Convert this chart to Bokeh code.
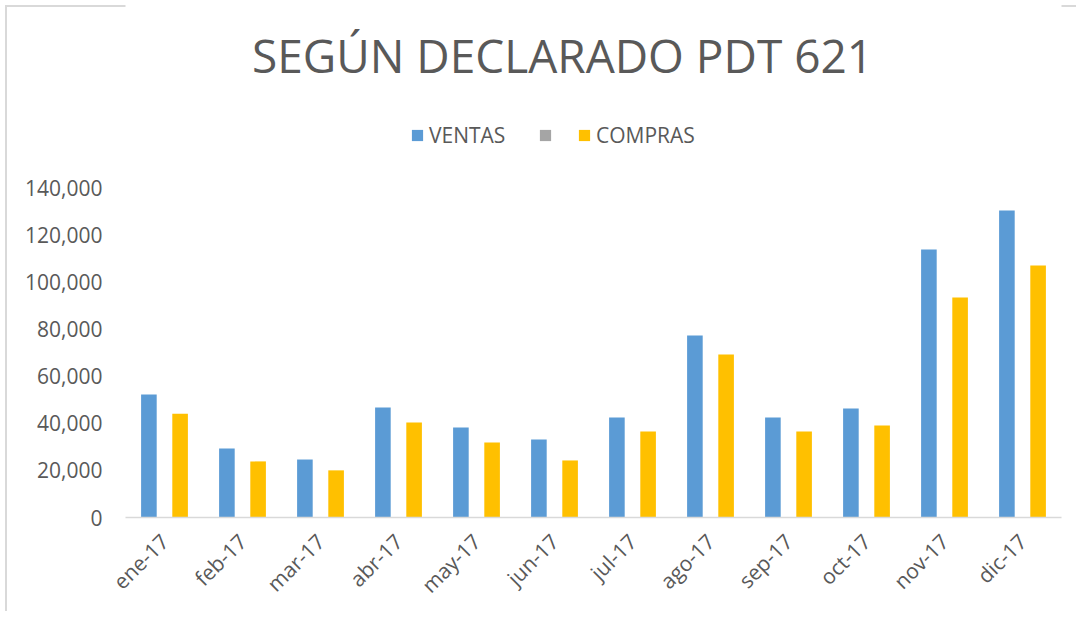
import math
from bokeh.plotting import figure
from bokeh.models import (ColumnDataSource, FactorRange, Range1d, Label, Legend,
                          LegendItem, NumeralTickFormatter, FixedTicker)
from bokeh.transform import dodge
from bokeh.core.properties import value
from bokeh.embed import file_html
from bokeh.resources import INLINE

# ---- data ----
months = ["ene-17", "feb-17", "mar-17", "abr-17", "may-17", "jun-17",
          "jul-17", "ago-17", "sep-17", "oct-17", "nov-17", "dic-17"]
ventas = [52200, 29300, 24600, 46700, 38200, 33100,
          42400, 77200, 42400, 46200, 113700, 130200]
serie_sin_nombre = [0, 0, 0, 0, 0, 0, 0, 0, 0, 0, 0, 0]
compras = [44000, 23800, 20000, 40300, 31800, 24200,
           36500, 69200, 36500, 39000, 93300, 106900]
y_ticks = [0, 20000, 40000, 60000, 80000, 100000, 120000, 140000]
title_text = "SEGÚN DECLARADO PDT 621"
series_names = ["VENTAS", "", "COMPRAS"]

FONT = "Open Sans"
TXT = "#595959"
C_BLUE = "#5B9BD5"
C_GRAY = "#A5A5A5"
C_YEL = "#FFC000"
BORDER = "#D9D9D9"

# frame spans the full height above the x axis; 140,000 sits 330px above 0
FRAME_H = 517
Y_TOP = 140000 * FRAME_H / 330

src = ColumnDataSource(dict(month=months, ventas=ventas,
                            vacia=serie_sin_nombre, compras=compras))

p = figure(width=1076, height=611, x_range=FactorRange(*months),
           y_range=Range1d(0, Y_TOP), output_backend="svg",
           toolbar_location=None, min_border_left=125, min_border_right=15,
           min_border_top=0, min_border_bottom=94)
p.outline_line_color = None
p.xgrid.grid_line_color = None
p.ygrid.grid_line_color = None
p.border_fill_alpha = 0
p.styles = {
    "background-image": f"linear-gradient({BORDER}, {BORDER}), linear-gradient({BORDER}, {BORDER})",
    "background-size": "2px 100%, 100% 2px",
    "background-position": "5px 5px, 5px 5px",
    "background-repeat": "no-repeat",
}

w = 0.2
r1 = p.vbar(x=dodge("month", -0.2, range=p.x_range), top="ventas", width=w,
            source=src, fill_color=C_BLUE, line_color=None)
r2 = p.vbar(x=dodge("month", 0.0, range=p.x_range), top="vacia", width=w,
            source=src, fill_color=C_GRAY, line_color=None)
r3 = p.vbar(x=dodge("month", 0.2, range=p.x_range), top="compras", width=w,
            source=src, fill_color=C_YEL, line_color=None)

# axes
p.yaxis.ticker = FixedTicker(ticks=y_ticks)
p.yaxis.formatter = NumeralTickFormatter(format="0,0")
p.yaxis.axis_line_color = None
p.yaxis.major_tick_line_color = None
p.yaxis.minor_tick_line_color = None
p.yaxis.major_label_standoff = 17
for ax in (p.xaxis, p.yaxis):
    ax.major_label_text_font = FONT
    ax.major_label_text_font_size = "21px"
    ax.major_label_text_color = TXT
p.xaxis.axis_line_color = BORDER
p.xaxis.axis_line_width = 1.5
p.xaxis.major_tick_line_color = None
p.xaxis.minor_tick_line_color = None
p.xaxis.major_tick_out = 0
p.xaxis.minor_tick_out = 0
p.xaxis.major_label_orientation = math.pi / 4
p.xaxis.major_label_standoff = 20

# title
p.add_layout(Label(x=437, y=463, x_units="screen", y_units="screen",
                   text=title_text, text_font=FONT, text_font_size="46px",
                   text_color=TXT, text_align="center", text_baseline="alphabetic"))

# legend (one Legend per entry for exact placement)
for r, name, vx in ((r1, series_names[0], 285), (r2, series_names[1], 413),
                    (r3, series_names[2], 452)):
    lg = Legend(items=[LegendItem(label=value(name), renderers=[r])],
                location=(vx, 368), orientation="horizontal",
                glyph_width=14, glyph_height=14, label_standoff=5,
                label_width=0, label_height=28, padding=0, margin=0,
                border_line_color=None, background_fill_alpha=0,
                label_text_font=FONT, label_text_font_size="21px",
                label_text_color=TXT)
    p.add_layout(lg, "center")

open("out.html", "w").write(file_html(p, INLINE))
